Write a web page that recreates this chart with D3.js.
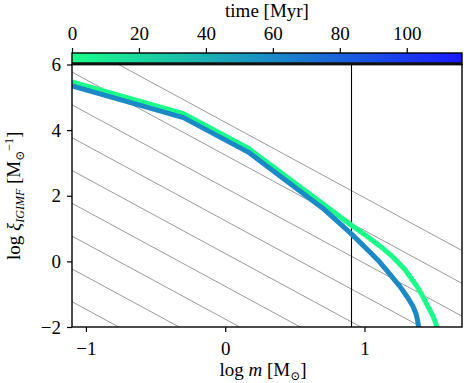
<!DOCTYPE html>
<meta charset="utf-8">
<script src="https://d3js.org/d3.v7.min.js"></script>
<style>
  body { margin: 0; background: #fff; }
  svg text { font-family: "Liberation Serif", "Times New Roman", "DejaVu Serif", serif; fill: #000; }
</style>
<div id="chart"></div>
<script>
// ---- data ----
var xTicks = [-1, 0, 1];
var yTicks = [-2, 0, 2, 4, 6];
var timeTicks = [0, 20, 40, 60, 80, 100];
var timeMax = 116.5;

// IGIMF at t = 0 Myr (green)
var logM_t0  = [-1.1, -0.30, 0.165, 0.90, 1.02, 1.11, 1.20, 1.29, 1.376, 1.42, 1.455, 1.49, 1.51, 1.525, 1.535];
var logXi_t0 = [5.47, 4.50, 3.45, 1.12, 0.76, 0.47, 0.15, -0.25, -0.76, -1.08, -1.37, -1.65, -1.87, -2.1, -2.3];

// IGIMF at t ~ 60 Myr (blue)
var logM_t60  = [-1.1, -0.30, 0.165, 0.70, 0.90, 0.968, 1.04, 1.111, 1.18, 1.254, 1.31, 1.348, 1.372, 1.384, 1.39, 1.395];
var logXi_t60 = [5.35, 4.38, 3.33, 1.62, 0.86, 0.58, 0.28, -0.03, -0.38, -0.76, -1.10, -1.37, -1.62, -1.87, -2.05, -2.3];

var curveTimes = [0, 60];

// reference power laws: log xi = c + slope * log m
var refSlope = -2.3;
var refIntercepts = [-3.76, -2.76, -1.76, -0.76, 0.24, 1.24, 2.24, 3.24, 4.24];

var logMlimit = 0.903; // log 8 Msun

// ---- layout ----
var margin = {top: 64.5, right: 2, bottom: 56, left: 72},
    W = 464, H = 383,
    width = W - margin.left - margin.right,
    height = H - margin.top - margin.bottom;

var FONT = "Liberation Serif, 'Times New Roman', serif";

var svg = d3.select("#chart").append("svg")
    .attr("width", W).attr("height", H)
    .attr("font-family", FONT);

var g = svg.append("g")
    .attr("transform", "translate(" + margin.left + "," + margin.top + ")");

var x = d3.scaleLinear().domain([-1.1, 1.7]).range([0, width]);
var y = d3.scaleLinear().domain([-2, 6]).range([height, 0]);
var tScale = d3.scaleLinear().domain([0, timeMax]).range([0, width]);
var cmap = d3.interpolateRgb("#1aff8a", "#1a1aff");

svg.append("defs").append("clipPath").attr("id", "clip")
  .append("rect").attr("width", width).attr("height", height);

var plot = g.append("g").attr("clip-path", "url(#clip)");

// reference lines
plot.selectAll(".ref").data(refIntercepts).enter().append("line")
    .attr("x1", x(-1.1)).attr("y1", function(c){ return y(c + refSlope * -1.1) })
    .attr("x2", x(1.7)).attr("y2", function(c){ return y(c + refSlope * 1.7) })
    .attr("stroke", "#999").attr("stroke-width", 1);

// vertical line at 8 Msun
plot.append("line")
    .attr("x1", Math.round(x(logMlimit)) + 0.5).attr("x2", Math.round(x(logMlimit)) + 0.5)
    .attr("y1", 0).attr("y2", height)
    .attr("stroke", "#000").attr("stroke-width", 1.1);

// IGIMF curves
var curves = [
  {t: curveTimes[0], m: logM_t0, xi: logXi_t0},
  {t: curveTimes[1], m: logM_t60, xi: logXi_t60}
];
var line = d3.line()
    .x(function(d){ return x(d[0]) })
    .y(function(d){ return y(d[1]) });
curves.forEach(function(c) {
  plot.append("path")
      .datum(d3.zip(c.m, c.xi))
      .attr("fill", "none")
      .attr("stroke", cmap(c.t / timeMax))
      .attr("stroke-width", 5)
      .attr("stroke-linejoin", "round")
      .attr("d", line);
});

function fmt(d) { return d < 0 ? "\u2212" + (-d) : d; }

// axes
var xAxis = g.append("g")
    .attr("transform", "translate(0," + height + ")")
    .call(d3.axisBottom(x).tickValues(xTicks).tickSize(5).tickPadding(6).tickFormat(fmt));
var yAxis = g.append("g")
    .call(d3.axisLeft(y).tickValues(yTicks).tickSize(5).tickPadding(6).tickFormat(fmt));
[xAxis, yAxis].forEach(function(a) {
  a.attr("font-family", FONT).attr("font-size", 19);
  a.select(".domain").remove();
  a.selectAll("line").attr("stroke", "#000").attr("stroke-width", 1.2);
});
xAxis.selectAll("text").attr("dy", "0.9em");

// frame
g.append("rect").attr("width", width).attr("height", height)
    .attr("fill", "none").attr("stroke", "#000").attr("stroke-width", 1.4);

// colorbar
var grad = svg.select("defs").append("linearGradient").attr("id", "cbar");
d3.range(0, 1.0001, 0.1).forEach(function(s) {
  grad.append("stop").attr("offset", s).attr("stop-color", cmap(s));
});
var cb = g.append("g").attr("transform", "translate(0,-11.5)");
cb.append("rect").attr("width", width).attr("height", 11.5)
    .attr("fill", "url(#cbar)").attr("stroke", "#000").attr("stroke-width", 1.4);
cb.append("line").attr("x1", 0).attr("x2", width).attr("y1", 10.5).attr("y2", 10.5)
    .attr("stroke", "#111").attr("stroke-width", 2.5);
var cAxis = cb.append("g")
    .call(d3.axisTop(tScale).tickValues(timeTicks).tickSize(5).tickPadding(8));
cAxis.attr("font-family", FONT).attr("font-size", 19);
cAxis.select(".domain").remove();
cAxis.selectAll("line").attr("stroke", "#000").attr("stroke-width", 1.2);

// labels
svg.append("text")
    .attr("x", margin.left + width / 2).attr("y", 17)
    .attr("text-anchor", "middle").attr("font-size", 19)
    .text("time [Myr]");

var xl = svg.append("text")
    .attr("x", margin.left + width / 2 - 4).attr("y", 376)
    .attr("text-anchor", "middle").attr("font-size", 19);
xl.append("tspan").text("log ");
xl.append("tspan").style("font-style", "italic").text("m");
xl.append("tspan").text(" [M");
xl.append("tspan").attr("dy", 4).attr("font-size", 12).text("\u2299");
xl.append("tspan").attr("dy", -4).text("]");

var yl = svg.append("text")
    .attr("transform", "translate(20," + (margin.top + height / 2) + ") rotate(-90)")
    .attr("text-anchor", "middle").attr("font-size", 19);
yl.append("tspan").text("log ");
yl.append("tspan").style("font-style", "italic").text("\u03be");
yl.append("tspan").attr("dy", 4).attr("font-size", 12).style("font-style", "italic").text("IGIMF");
yl.append("tspan").attr("dy", -4).text(" [M");
yl.append("tspan").attr("dy", 4).attr("font-size", 12).text("\u2299");
yl.append("tspan").attr("dy", -11).attr("font-size", 12).text("\u22121");
yl.append("tspan").attr("dy", 7).text("]");
</script>
